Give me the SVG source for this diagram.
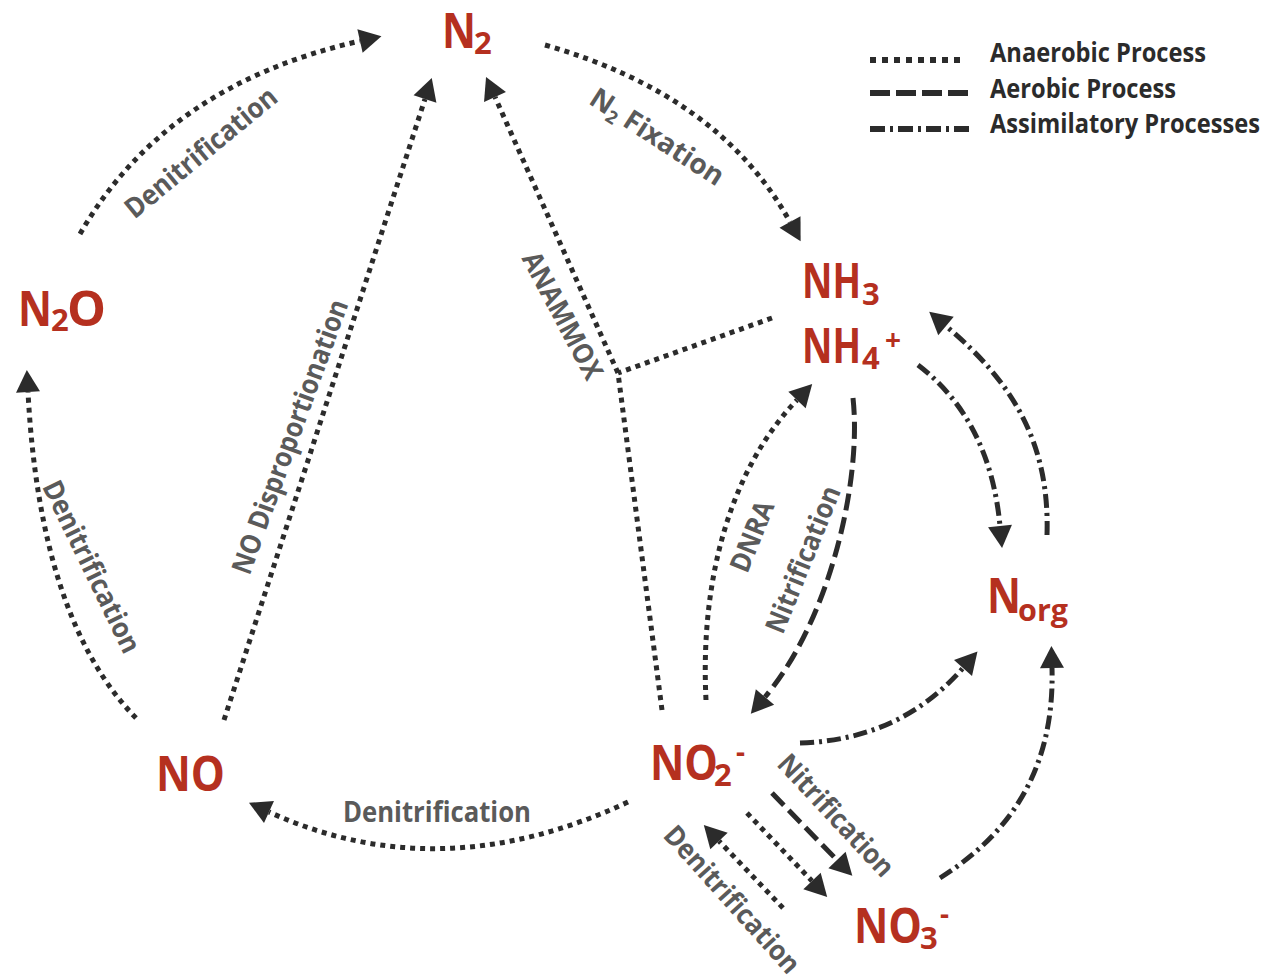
<svg xmlns="http://www.w3.org/2000/svg" width="1277" height="975" viewBox="0 0 1277 975">
<style>
  .nd { fill:#b5301f; font-family:"Open Sans","Noto Sans",sans-serif; font-weight:700; font-size:48px; }
  .sub { font-size:31px; }
  .sup { font-size:28px; }
  .lbl { fill:#5a5a5a; font-family:"Open Sans","Noto Sans",sans-serif; font-weight:700; font-size:28px; text-anchor:middle; }
  .leg { fill:#2b2b2b; font-family:"Open Sans","Noto Sans",sans-serif; font-weight:700; font-size:26px; }
  .anaerobic { stroke-width:5; stroke-dasharray:5 5; }
  .aerobic { stroke-width:5; stroke-dasharray:17 7; }
  .assim { stroke-width:5; stroke-dasharray:14 5 3 5; }
</style>
<defs>
  <marker id="arrow" viewBox="0 0 22 24" refX="0" refY="12" markerWidth="22" markerHeight="24" markerUnits="userSpaceOnUse" orient="auto" overflow="visible">
    <path d="M0,0 L22,12 L0,24 z" fill="#2b2b2b" stroke="none"/>
  </marker>
</defs>
<rect width="1277" height="975" fill="#ffffff"/>

<g id="connectors" fill="none" stroke="#2b2b2b">
  <path class="anaerobic" d="M80,234 Q165,85 360,41" marker-end="url(#arrow)"/>
  <path class="anaerobic" d="M136,718 Q40,620 28,392" marker-end="url(#arrow)"/>
  <path class="anaerobic" d="M224,720 L425,99" marker-end="url(#arrow)"/>
  <path class="anaerobic" d="M662,710 L618,373 L495,97" marker-end="url(#arrow)"/>
  <path class="anaerobic" d="M772,318 L618,373"/>
  <path class="anaerobic" d="M545,45 Q720,95 790,222" marker-end="url(#arrow)"/>
  <path class="aerobic" d="M853,398 C862,480 830,620 765,697" marker-end="url(#arrow)"/>
  <path class="anaerobic" d="M706,700 C700,580 730,470 797,400" marker-end="url(#arrow)"/>
  <path class="assim" d="M918,365 Q990,420 1000,526" marker-end="url(#arrow)"/>
  <path class="assim" d="M1047,535 C1050,440 1010,380 946,326" marker-end="url(#arrow)"/>
  <path class="assim" d="M800,743 Q900,740 963,668" marker-end="url(#arrow)"/>
  <path class="assim" d="M940,878 C1000,840 1055,780 1052,668" marker-end="url(#arrow)"/>
  <path class="anaerobic" d="M628,802 Q440,890 269,812" marker-end="url(#arrow)"/>
  <path class="aerobic" d="M772,793 L837,860" marker-end="url(#arrow)"/>
  <path class="anaerobic" d="M747,813 L812,881" marker-end="url(#arrow)"/>
  <path class="anaerobic" d="M783,908 L719,841" marker-end="url(#arrow)"/>
</g>

<g id="labels">
  <text class="lbl" transform="translate(207,160) rotate(-39.5)" textLength="188" lengthAdjust="spacingAndGlyphs">Denitrification</text>
  <text class="lbl" transform="translate(652,145) rotate(33)">N<tspan font-size="18" dy="5">2</tspan><tspan dy="-5"> Fixation</tspan></text>
  <text class="lbl" transform="translate(554,320) rotate(62)" textLength="140" lengthAdjust="spacingAndGlyphs">ANAMMOX</text>
  <text class="lbl" transform="translate(299,440) rotate(-70)" textLength="290" lengthAdjust="spacingAndGlyphs">NO Disproportionation</text>
  <text class="lbl" transform="translate(83,571) rotate(64)" textLength="188" lengthAdjust="spacingAndGlyphs">Denitrification</text>
  <text class="lbl" transform="translate(761,540) rotate(-68)" textLength="74" lengthAdjust="spacingAndGlyphs">DNRA</text>
  <text class="lbl" transform="translate(812,563) rotate(-68)" textLength="156" lengthAdjust="spacingAndGlyphs">Nitrification</text>
  <text class="lbl" x="437" y="822" textLength="188" lengthAdjust="spacingAndGlyphs">Denitrification</text>
  <text class="lbl" transform="translate(829,822) rotate(47)" textLength="156" lengthAdjust="spacingAndGlyphs">Nitrification</text>
  <text class="lbl" transform="translate(725,906) rotate(48)" textLength="188" lengthAdjust="spacingAndGlyphs">Denitrification</text>
</g>

<g id="node-N2">
  <text class="nd" x="442" y="48" textLength="34" lengthAdjust="spacingAndGlyphs">N</text>
  <text class="nd sub" x="474" y="54">2</text>
</g>
<g id="node-N2O">
  <text class="nd" x="18" y="326" textLength="34" lengthAdjust="spacingAndGlyphs">N</text>
  <text class="nd sub" x="51" y="331">2</text>
  <text class="nd" x="67" y="326" textLength="39" lengthAdjust="spacingAndGlyphs">O</text>
</g>
<g id="node-NH3">
  <text class="nd" x="802" y="298" textLength="59" lengthAdjust="spacingAndGlyphs">NH</text>
  <text class="nd sub" x="862" y="305">3</text>
</g>
<g id="node-NH4">
  <text class="nd" x="802" y="363" textLength="59" lengthAdjust="spacingAndGlyphs">NH</text>
  <text class="nd sub" x="862" y="369">4</text>
  <text class="nd sup" x="885" y="350">+</text>
</g>
<g id="node-Norg">
  <text class="nd" x="987" y="613" textLength="34" lengthAdjust="spacingAndGlyphs">N</text>
  <text class="nd sub" x="1018" y="621" textLength="50" lengthAdjust="spacingAndGlyphs">org</text>
</g>
<g id="node-NO2">
  <text class="nd" x="650" y="780" textLength="68" lengthAdjust="spacingAndGlyphs">NO</text>
  <text class="nd sub" x="714" y="786">2</text>
  <text class="nd sup" x="736" y="762">-</text>
</g>
<g id="node-NO3">
  <text class="nd" x="854" y="943" textLength="68" lengthAdjust="spacingAndGlyphs">NO</text>
  <text class="nd sub" x="920" y="949">3</text>
  <text class="nd sup" x="940" y="924">-</text>
</g>
<g id="node-NO">
  <text class="nd" x="156" y="791" textLength="69" lengthAdjust="spacingAndGlyphs">NO</text>
</g>

<g id="legend">
  <line x1="870" y1="60" x2="966" y2="60" stroke="#2b2b2b" stroke-width="6" stroke-dasharray="6 6"/>
  <line x1="870" y1="93" x2="968" y2="93" stroke="#2b2b2b" stroke-width="6" stroke-dasharray="20 6"/>
  <line x1="870" y1="129" x2="969" y2="129" stroke="#2b2b2b" stroke-width="6" stroke-dasharray="15 5 3 5"/>
  <text class="leg" x="990" y="62" textLength="216" lengthAdjust="spacingAndGlyphs">Anaerobic Process</text>
  <text class="leg" x="990" y="98" textLength="186" lengthAdjust="spacingAndGlyphs">Aerobic Process</text>
  <text class="leg" x="990" y="133" textLength="270" lengthAdjust="spacingAndGlyphs">Assimilatory Processes</text>
</g>
</svg>
